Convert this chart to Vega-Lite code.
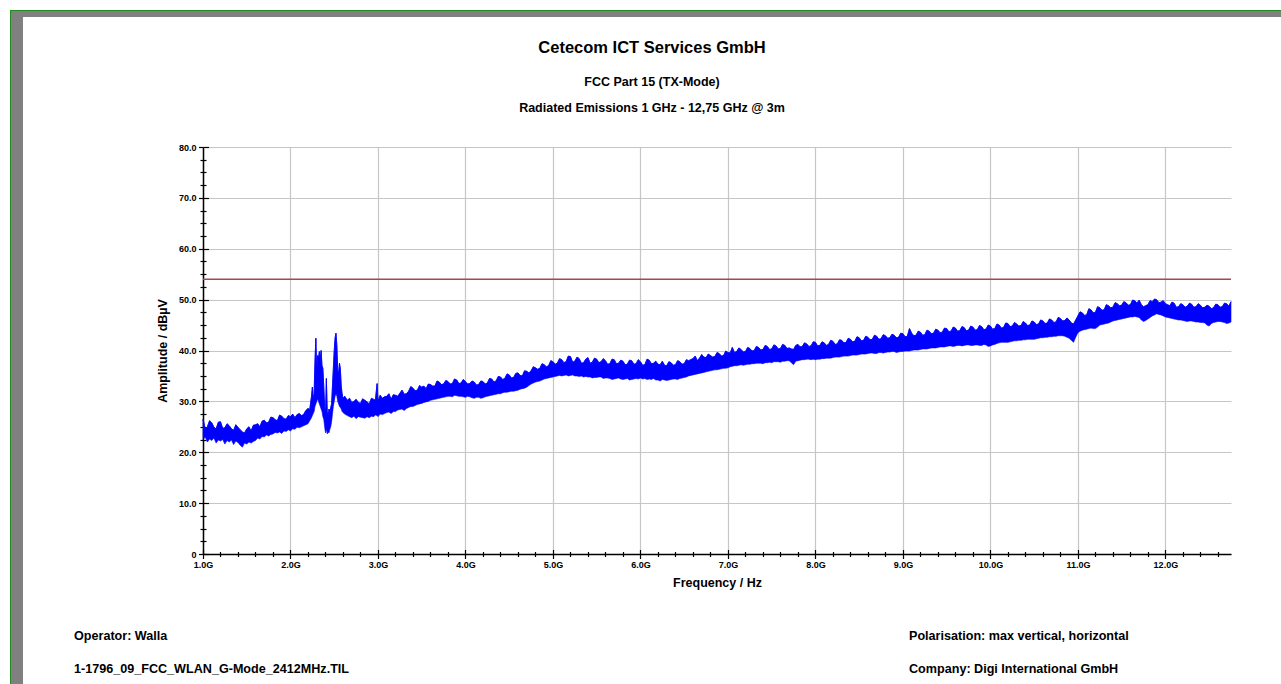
{
"$schema": "https://vega.github.io/schema/vega-lite/v6.json",
"width": 1028, "height": 407,
"autosize": {"type": "none"},
"padding": {"left": 203, "top": 147, "right": 50, "bottom": 130},
"background": "white",
"config": {"view": {"stroke": null}, "font": "Liberation Sans"},
"title": {"text": "Cetecom ICT Services GmbH", "subtitle": ["FCC Part 15 (TX-Mode)", "Radiated Emissions 1 GHz - 12,75 GHz @ 3m"], "anchor": "middle", "frame": "group", "dx": -65, "offset": -105, "font": "Liberation Sans", "fontSize": 16.5, "fontWeight": "bold", "color": "black", "subtitleFont": "Liberation Sans", "subtitleFontSize": 12.5, "subtitleFontWeight": "bold", "subtitleColor": "black", "subtitleLineHeight": 26.5, "subtitlePadding": 19},
"datasets": {"trace": [
{"f":1.00,"lo":22.5,"hi":26.5},{"f":1.025,"lo":23.0,"hi":24.6},{"f":1.05,"lo":22.0,"hi":25.0},{"f":1.075,"lo":22.6,"hi":26.2},{"f":1.10,"lo":22.3,"hi":25.8},{"f":1.125,"lo":22.8,"hi":24.9},{"f":1.15,"lo":21.8,"hi":24.6},{"f":1.175,"lo":22.4,"hi":25.9},{"f":1.20,"lo":22.2,"hi":26.0},{"f":1.225,"lo":22.5,"hi":24.7},{"f":1.25,"lo":21.6,"hi":24.8},{"f":1.275,"lo":22.3,"hi":25.6},{"f":1.30,"lo":22.0,"hi":25.2},{"f":1.325,"lo":22.4,"hi":24.6},{"f":1.35,"lo":21.5,"hi":24.3},{"f":1.375,"lo":22.2,"hi":25.4},{"f":1.40,"lo":21.9,"hi":24.9},{"f":1.425,"lo":21.4,"hi":24.4},{"f":1.45,"lo":21.0,"hi":24.0},{"f":1.475,"lo":21.8,"hi":23.8},{"f":1.50,"lo":21.6,"hi":24.6},{"f":1.525,"lo":22.0,"hi":25.0},{"f":1.55,"lo":21.8,"hi":24.2},{"f":1.575,"lo":22.1,"hi":25.3},{"f":1.60,"lo":22.3,"hi":25.4},{"f":1.625,"lo":22.8,"hi":25.6},{"f":1.65,"lo":22.6,"hi":25.0},{"f":1.675,"lo":23.1,"hi":26.1},{"f":1.70,"lo":23.0,"hi":26.3},{"f":1.725,"lo":23.4,"hi":25.8},{"f":1.75,"lo":23.2,"hi":25.9},{"f":1.775,"lo":23.5,"hi":26.9},{"f":1.80,"lo":23.6,"hi":26.8},{"f":1.825,"lo":23.9,"hi":26.4},{"f":1.85,"lo":23.8,"hi":26.2},{"f":1.875,"lo":24.0,"hi":27.3},{"f":1.90,"lo":23.7,"hi":27.1},{"f":1.925,"lo":24.2,"hi":26.6},{"f":1.95,"lo":24.1,"hi":26.5},{"f":1.975,"lo":24.4,"hi":27.2},{"f":2.00,"lo":24.2,"hi":27.0},{"f":2.025,"lo":24.6,"hi":27.5},{"f":2.05,"lo":24.5,"hi":26.8},{"f":2.075,"lo":24.9,"hi":27.4},{"f":2.10,"lo":24.8,"hi":27.6},{"f":2.125,"lo":25.0,"hi":27.2},{"f":2.15,"lo":25.2,"hi":27.4},{"f":2.175,"lo":25.4,"hi":28.2},{"f":2.20,"lo":25.6,"hi":28.6},
{"f":2.22,"lo":26.2,"hi":28.4},{"f":2.24,"lo":26.8,"hi":31.0},{"f":2.25,"lo":27.2,"hi":32.8},{"f":2.26,"lo":27.6,"hi":30.5},{"f":2.27,"lo":28.0,"hi":31.5},{"f":2.28,"lo":29.0,"hi":38.0},{"f":2.29,"lo":29.5,"hi":42.4},{"f":2.30,"lo":30.0,"hi":36.0},{"f":2.31,"lo":30.5,"hi":39.0},{"f":2.32,"lo":30.0,"hi":38.5},{"f":2.33,"lo":29.5,"hi":39.8},{"f":2.34,"lo":29.0,"hi":38.0},{"f":2.35,"lo":28.5,"hi":40.0},{"f":2.36,"lo":28.0,"hi":37.0},{"f":2.37,"lo":27.0,"hi":36.5},{"f":2.38,"lo":26.5,"hi":33.0},{"f":2.39,"lo":25.0,"hi":29.0},{"f":2.40,"lo":23.8,"hi":27.5},{"f":2.41,"lo":24.5,"hi":34.5},{"f":2.42,"lo":23.6,"hi":28.0},{"f":2.43,"lo":24.0,"hi":27.2},{"f":2.44,"lo":23.8,"hi":28.5},{"f":2.45,"lo":24.5,"hi":27.8},{"f":2.46,"lo":25.0,"hi":28.8},{"f":2.47,"lo":26.0,"hi":29.5},{"f":2.48,"lo":27.5,"hi":33.0},{"f":2.49,"lo":29.0,"hi":36.5},{"f":2.50,"lo":30.0,"hi":40.0},{"f":2.51,"lo":31.0,"hi":42.5},{"f":2.52,"lo":31.5,"hi":43.4},{"f":2.53,"lo":31.0,"hi":41.0},{"f":2.54,"lo":30.0,"hi":36.0},{"f":2.55,"lo":29.5,"hi":35.5},{"f":2.56,"lo":29.0,"hi":37.5},{"f":2.57,"lo":28.8,"hi":36.4},{"f":2.58,"lo":28.5,"hi":33.0},{"f":2.59,"lo":28.0,"hi":31.5},{"f":2.60,"lo":27.8,"hi":30.6},{"f":2.62,"lo":27.5,"hi":31.0},{"f":2.65,"lo":27.2,"hi":30.2},
{"f":2.675,"lo":27.0,"hi":30.6},{"f":2.70,"lo":26.8,"hi":29.8},{"f":2.725,"lo":27.1,"hi":30.0},{"f":2.75,"lo":26.6,"hi":30.4},{"f":2.775,"lo":27.0,"hi":29.8},{"f":2.80,"lo":26.9,"hi":29.6},{"f":2.825,"lo":26.8,"hi":30.5},{"f":2.85,"lo":26.7,"hi":30.2},{"f":2.875,"lo":27.0,"hi":29.9},{"f":2.90,"lo":26.8,"hi":29.5},{"f":2.925,"lo":27.1,"hi":30.6},{"f":2.95,"lo":27.0,"hi":30.4},{"f":2.97,"lo":27.3,"hi":30.2},{"f":2.99,"lo":27.2,"hi":33.5},{"f":3.00,"lo":27.0,"hi":30.0},
{"f":3.025,"lo":27.5,"hi":31.2},{"f":3.05,"lo":27.4,"hi":30.6},{"f":3.075,"lo":27.6,"hi":30.9},{"f":3.10,"lo":27.8,"hi":31.0},{"f":3.125,"lo":27.9,"hi":31.5},{"f":3.15,"lo":27.6,"hi":30.4},{"f":3.175,"lo":28.0,"hi":31.3},{"f":3.20,"lo":28.0,"hi":31.2},{"f":3.225,"lo":28.3,"hi":31.0},{"f":3.25,"lo":28.4,"hi":31.6},{"f":3.275,"lo":28.5,"hi":32.2},{"f":3.30,"lo":28.2,"hi":31.4},{"f":3.325,"lo":28.6,"hi":31.5},{"f":3.35,"lo":28.8,"hi":32.0},{"f":3.375,"lo":29.0,"hi":32.9},{"f":3.40,"lo":29.0,"hi":32.6},{"f":3.425,"lo":29.2,"hi":32.1},{"f":3.45,"lo":29.4,"hi":32.2},{"f":3.475,"lo":29.5,"hi":33.1},{"f":3.50,"lo":29.6,"hi":32.8},{"f":3.525,"lo":29.8,"hi":33.0},{"f":3.55,"lo":29.9,"hi":32.5},{"f":3.575,"lo":30.0,"hi":33.4},{"f":3.60,"lo":30.2,"hi":33.3},{"f":3.625,"lo":30.3,"hi":33.0},{"f":3.65,"lo":30.4,"hi":33.0},{"f":3.675,"lo":30.5,"hi":34.0},{"f":3.70,"lo":30.6,"hi":33.8},{"f":3.725,"lo":30.7,"hi":33.3},{"f":3.75,"lo":30.8,"hi":33.4},{"f":3.775,"lo":30.9,"hi":34.1},{"f":3.80,"lo":31.0,"hi":33.9},{"f":3.825,"lo":31.0,"hi":33.4},{"f":3.85,"lo":30.9,"hi":33.5},{"f":3.875,"lo":31.2,"hi":34.4},{"f":3.90,"lo":31.1,"hi":34.2},{"f":3.925,"lo":31.0,"hi":33.5},{"f":3.95,"lo":31.0,"hi":33.6},{"f":3.975,"lo":30.9,"hi":34.3},
{"f":4.00,"lo":30.8,"hi":33.9},{"f":4.025,"lo":31.0,"hi":33.4},{"f":4.05,"lo":30.9,"hi":33.5},{"f":4.075,"lo":30.7,"hi":34.0},{"f":4.10,"lo":30.6,"hi":33.8},{"f":4.125,"lo":30.8,"hi":33.2},{"f":4.15,"lo":30.8,"hi":33.3},{"f":4.175,"lo":30.6,"hi":34.0},{"f":4.20,"lo":30.7,"hi":33.9},{"f":4.225,"lo":30.9,"hi":33.4},{"f":4.25,"lo":31.0,"hi":33.6},{"f":4.275,"lo":31.1,"hi":34.5},{"f":4.30,"lo":31.2,"hi":34.4},{"f":4.325,"lo":31.3,"hi":33.8},{"f":4.35,"lo":31.4,"hi":34.0},{"f":4.375,"lo":31.5,"hi":34.9},{"f":4.40,"lo":31.5,"hi":34.8},{"f":4.425,"lo":31.7,"hi":34.3},{"f":4.45,"lo":31.8,"hi":34.5},{"f":4.475,"lo":31.8,"hi":35.4},{"f":4.50,"lo":31.9,"hi":35.2},{"f":4.525,"lo":32.0,"hi":34.6},{"f":4.55,"lo":32.0,"hi":34.7},{"f":4.575,"lo":32.1,"hi":35.5},{"f":4.60,"lo":32.2,"hi":35.6},{"f":4.625,"lo":32.4,"hi":35.1},{"f":4.65,"lo":32.5,"hi":35.0},{"f":4.675,"lo":32.6,"hi":36.0},{"f":4.70,"lo":32.8,"hi":35.9},{"f":4.725,"lo":33.1,"hi":35.6},{"f":4.75,"lo":33.4,"hi":36.0},{"f":4.775,"lo":33.6,"hi":36.8},{"f":4.80,"lo":33.8,"hi":36.6},{"f":4.825,"lo":33.9,"hi":36.3},{"f":4.85,"lo":34.0,"hi":36.5},{"f":4.875,"lo":34.2,"hi":37.4},{"f":4.90,"lo":34.4,"hi":37.2},{"f":4.925,"lo":34.5,"hi":36.8},{"f":4.95,"lo":34.6,"hi":37.0},{"f":4.975,"lo":34.7,"hi":38.0},
{"f":5.00,"lo":34.8,"hi":37.8},{"f":5.025,"lo":34.9,"hi":37.3},{"f":5.05,"lo":35.0,"hi":37.5},{"f":5.075,"lo":35.1,"hi":38.4},{"f":5.10,"lo":35.0,"hi":38.2},{"f":5.125,"lo":35.1,"hi":37.6},{"f":5.15,"lo":35.2,"hi":37.8},{"f":5.175,"lo":35.0,"hi":38.9},{"f":5.20,"lo":35.1,"hi":38.8},{"f":5.225,"lo":35.2,"hi":37.7},{"f":5.25,"lo":35.0,"hi":37.9},{"f":5.275,"lo":35.0,"hi":38.7},{"f":5.30,"lo":34.9,"hi":38.4},{"f":5.325,"lo":35.0,"hi":37.5},{"f":5.35,"lo":34.8,"hi":37.6},{"f":5.375,"lo":34.9,"hi":38.3},{"f":5.40,"lo":34.8,"hi":38.6},{"f":5.425,"lo":34.8,"hi":37.5},{"f":5.45,"lo":34.6,"hi":37.7},{"f":5.475,"lo":34.7,"hi":38.5},{"f":5.50,"lo":34.7,"hi":38.3},{"f":5.525,"lo":34.8,"hi":37.6},{"f":5.55,"lo":34.8,"hi":37.8},{"f":5.575,"lo":34.5,"hi":38.4},{"f":5.60,"lo":34.6,"hi":38.0},{"f":5.625,"lo":34.6,"hi":37.3},{"f":5.65,"lo":34.5,"hi":37.4},{"f":5.675,"lo":34.3,"hi":38.3},{"f":5.70,"lo":34.4,"hi":38.2},{"f":5.725,"lo":34.5,"hi":37.4},{"f":5.75,"lo":34.6,"hi":37.5},{"f":5.775,"lo":34.4,"hi":38.1},{"f":5.80,"lo":34.3,"hi":37.9},{"f":5.825,"lo":34.4,"hi":37.2},{"f":5.85,"lo":34.5,"hi":37.3},{"f":5.875,"lo":34.2,"hi":38.1},{"f":5.90,"lo":34.3,"hi":38.0},{"f":5.925,"lo":34.4,"hi":37.3},{"f":5.95,"lo":34.5,"hi":37.4},{"f":5.975,"lo":34.4,"hi":38.2},
{"f":6.00,"lo":34.6,"hi":37.8},{"f":6.025,"lo":34.4,"hi":37.1},{"f":6.05,"lo":34.5,"hi":37.2},{"f":6.075,"lo":34.3,"hi":38.3},{"f":6.10,"lo":34.4,"hi":38.1},{"f":6.125,"lo":34.3,"hi":37.4},{"f":6.15,"lo":34.5,"hi":37.5},{"f":6.175,"lo":34.2,"hi":37.9},{"f":6.20,"lo":34.2,"hi":37.3},{"f":6.225,"lo":34.0,"hi":37.2},{"f":6.25,"lo":34.3,"hi":37.9},{"f":6.275,"lo":34.2,"hi":37.1},{"f":6.30,"lo":34.1,"hi":37.0},{"f":6.325,"lo":34.2,"hi":37.8},{"f":6.35,"lo":34.3,"hi":37.6},{"f":6.375,"lo":34.4,"hi":37.1},{"f":6.40,"lo":34.4,"hi":37.2},{"f":6.425,"lo":34.3,"hi":38.0},{"f":6.45,"lo":34.5,"hi":37.8},{"f":6.475,"lo":34.6,"hi":37.3},{"f":6.50,"lo":34.7,"hi":37.4},{"f":6.525,"lo":34.8,"hi":38.2},{"f":6.55,"lo":35.0,"hi":38.0},{"f":6.575,"lo":35.1,"hi":38.2},{"f":6.60,"lo":35.2,"hi":38.4},{"f":6.625,"lo":35.3,"hi":38.9},{"f":6.65,"lo":35.4,"hi":38.0},{"f":6.675,"lo":35.5,"hi":38.5},{"f":6.70,"lo":35.6,"hi":39.2},{"f":6.725,"lo":35.7,"hi":38.7},{"f":6.75,"lo":35.8,"hi":38.6},{"f":6.775,"lo":35.9,"hi":39.3},{"f":6.80,"lo":36.0,"hi":39.0},{"f":6.825,"lo":36.1,"hi":38.7},{"f":6.85,"lo":36.2,"hi":38.8},{"f":6.875,"lo":36.2,"hi":39.6},{"f":6.90,"lo":36.3,"hi":39.4},{"f":6.925,"lo":36.4,"hi":38.9},{"f":6.95,"lo":36.5,"hi":39.0},{"f":6.975,"lo":36.5,"hi":39.9},
{"f":7.00,"lo":36.6,"hi":39.6},{"f":7.025,"lo":36.8,"hi":39.5},{"f":7.05,"lo":36.9,"hi":40.6},{"f":7.075,"lo":37.0,"hi":39.6},{"f":7.10,"lo":37.0,"hi":39.8},{"f":7.125,"lo":37.1,"hi":40.5},{"f":7.15,"lo":37.2,"hi":40.2},{"f":7.175,"lo":37.1,"hi":39.7},{"f":7.20,"lo":37.2,"hi":39.8},{"f":7.225,"lo":37.3,"hi":40.6},{"f":7.25,"lo":37.3,"hi":40.4},{"f":7.275,"lo":37.4,"hi":39.9},{"f":7.30,"lo":37.4,"hi":40.0},{"f":7.325,"lo":37.5,"hi":40.8},{"f":7.35,"lo":37.5,"hi":40.6},{"f":7.375,"lo":37.5,"hi":40.1},{"f":7.40,"lo":37.4,"hi":40.2},{"f":7.425,"lo":37.6,"hi":41.0},{"f":7.45,"lo":37.6,"hi":40.8},{"f":7.475,"lo":37.7,"hi":40.2},{"f":7.50,"lo":37.6,"hi":40.3},{"f":7.525,"lo":37.8,"hi":41.1},{"f":7.55,"lo":37.8,"hi":40.9},{"f":7.575,"lo":37.8,"hi":40.3},{"f":7.60,"lo":37.7,"hi":40.4},{"f":7.625,"lo":37.9,"hi":41.2},{"f":7.65,"lo":37.9,"hi":41.0},{"f":7.675,"lo":38.0,"hi":40.4},{"f":7.70,"lo":38.0,"hi":40.5},{"f":7.725,"lo":37.6,"hi":40.3},{"f":7.75,"lo":37.2,"hi":40.2},{"f":7.775,"lo":37.9,"hi":41.0},{"f":7.80,"lo":38.0,"hi":41.2},{"f":7.825,"lo":38.1,"hi":40.7},{"f":7.85,"lo":38.2,"hi":40.8},{"f":7.875,"lo":38.2,"hi":41.5},{"f":7.90,"lo":38.3,"hi":41.3},{"f":7.925,"lo":38.3,"hi":40.8},{"f":7.95,"lo":38.2,"hi":40.9},{"f":7.975,"lo":38.3,"hi":41.7},
{"f":8.00,"lo":38.2,"hi":41.6},{"f":8.025,"lo":38.3,"hi":40.9},{"f":8.05,"lo":38.3,"hi":41.0},{"f":8.075,"lo":38.4,"hi":41.7},{"f":8.10,"lo":38.4,"hi":41.5},{"f":8.125,"lo":38.5,"hi":41.0},{"f":8.15,"lo":38.5,"hi":41.2},{"f":8.175,"lo":38.5,"hi":42.0},{"f":8.20,"lo":38.6,"hi":41.8},{"f":8.225,"lo":38.7,"hi":41.2},{"f":8.25,"lo":38.7,"hi":41.3},{"f":8.275,"lo":38.7,"hi":42.1},{"f":8.30,"lo":38.8,"hi":42.0},{"f":8.325,"lo":38.9,"hi":41.5},{"f":8.35,"lo":38.9,"hi":41.6},{"f":8.375,"lo":38.9,"hi":42.4},{"f":8.40,"lo":39.0,"hi":42.2},{"f":8.425,"lo":39.1,"hi":41.7},{"f":8.45,"lo":39.1,"hi":41.8},{"f":8.475,"lo":39.1,"hi":42.7},{"f":8.50,"lo":39.2,"hi":42.5},{"f":8.525,"lo":39.3,"hi":41.9},{"f":8.55,"lo":39.3,"hi":42.0},{"f":8.575,"lo":39.3,"hi":42.8},{"f":8.60,"lo":39.4,"hi":42.6},{"f":8.625,"lo":39.5,"hi":42.1},{"f":8.65,"lo":39.5,"hi":42.2},{"f":8.675,"lo":39.4,"hi":43.0},{"f":8.70,"lo":39.4,"hi":42.8},{"f":8.725,"lo":39.6,"hi":42.2},{"f":8.75,"lo":39.6,"hi":42.3},{"f":8.775,"lo":39.5,"hi":43.1},{"f":8.80,"lo":39.6,"hi":42.9},{"f":8.825,"lo":39.7,"hi":42.4},{"f":8.85,"lo":39.7,"hi":42.5},{"f":8.875,"lo":39.8,"hi":43.2},{"f":8.90,"lo":39.8,"hi":43.0},{"f":8.925,"lo":39.6,"hi":42.5},{"f":8.95,"lo":39.7,"hi":42.6},{"f":8.975,"lo":39.8,"hi":43.4},
{"f":9.00,"lo":39.8,"hi":43.3},{"f":9.025,"lo":39.9,"hi":42.7},{"f":9.05,"lo":39.9,"hi":42.8},{"f":9.075,"lo":39.9,"hi":44.3},{"f":9.10,"lo":40.0,"hi":43.4},{"f":9.125,"lo":40.1,"hi":42.9},{"f":9.15,"lo":40.1,"hi":43.0},{"f":9.175,"lo":40.1,"hi":43.8},{"f":9.20,"lo":40.2,"hi":43.6},{"f":9.225,"lo":40.3,"hi":43.0},{"f":9.25,"lo":40.3,"hi":43.1},{"f":9.275,"lo":40.3,"hi":44.0},{"f":9.30,"lo":40.4,"hi":43.8},{"f":9.325,"lo":40.5,"hi":43.3},{"f":9.35,"lo":40.5,"hi":43.4},{"f":9.375,"lo":40.5,"hi":44.2},{"f":9.40,"lo":40.6,"hi":44.0},{"f":9.425,"lo":40.7,"hi":43.5},{"f":9.45,"lo":40.7,"hi":43.6},{"f":9.475,"lo":40.7,"hi":44.4},{"f":9.50,"lo":40.8,"hi":44.3},{"f":9.525,"lo":40.9,"hi":43.7},{"f":9.55,"lo":40.9,"hi":43.8},{"f":9.575,"lo":40.8,"hi":44.6},{"f":9.60,"lo":40.9,"hi":44.4},{"f":9.625,"lo":41.0,"hi":43.8},{"f":9.65,"lo":41.0,"hi":43.9},{"f":9.675,"lo":40.9,"hi":44.7},{"f":9.70,"lo":41.0,"hi":44.5},{"f":9.725,"lo":41.1,"hi":43.9},{"f":9.75,"lo":41.1,"hi":44.0},{"f":9.775,"lo":41.0,"hi":44.8},{"f":9.80,"lo":41.0,"hi":44.6},{"f":9.825,"lo":41.1,"hi":44.0},{"f":9.85,"lo":41.1,"hi":44.1},{"f":9.875,"lo":41.0,"hi":44.9},{"f":9.90,"lo":41.0,"hi":44.7},{"f":9.925,"lo":41.2,"hi":44.1},{"f":9.95,"lo":41.1,"hi":44.2},{"f":9.975,"lo":40.8,"hi":45.0},
{"f":10.00,"lo":40.9,"hi":44.8},{"f":10.025,"lo":41.1,"hi":44.2},{"f":10.05,"lo":41.2,"hi":44.3},{"f":10.075,"lo":41.4,"hi":45.2},{"f":10.10,"lo":41.5,"hi":45.0},{"f":10.125,"lo":41.6,"hi":44.4},{"f":10.15,"lo":41.6,"hi":44.5},{"f":10.175,"lo":41.6,"hi":45.4},{"f":10.20,"lo":41.6,"hi":45.3},{"f":10.225,"lo":41.7,"hi":44.7},{"f":10.25,"lo":41.8,"hi":44.8},{"f":10.275,"lo":41.9,"hi":45.5},{"f":10.30,"lo":41.9,"hi":45.2},{"f":10.325,"lo":42.0,"hi":44.8},{"f":10.35,"lo":42.0,"hi":44.9},{"f":10.375,"lo":42.1,"hi":45.7},{"f":10.40,"lo":42.1,"hi":45.4},{"f":10.425,"lo":42.2,"hi":44.9},{"f":10.45,"lo":42.2,"hi":45.0},{"f":10.475,"lo":42.2,"hi":45.8},{"f":10.50,"lo":42.2,"hi":45.6},{"f":10.525,"lo":42.3,"hi":45.1},{"f":10.55,"lo":42.4,"hi":45.2},{"f":10.575,"lo":42.5,"hi":46.0},{"f":10.60,"lo":42.5,"hi":45.8},{"f":10.625,"lo":42.6,"hi":45.3},{"f":10.65,"lo":42.6,"hi":45.4},{"f":10.675,"lo":42.7,"hi":46.2},{"f":10.70,"lo":42.7,"hi":46.0},{"f":10.725,"lo":42.8,"hi":45.5},{"f":10.75,"lo":42.8,"hi":45.6},{"f":10.775,"lo":42.9,"hi":46.5},{"f":10.80,"lo":42.9,"hi":46.3},{"f":10.825,"lo":42.9,"hi":45.8},{"f":10.85,"lo":42.8,"hi":45.9},{"f":10.875,"lo":42.6,"hi":46.4},{"f":10.90,"lo":42.4,"hi":46.0},{"f":10.925,"lo":42.0,"hi":45.4},{"f":10.95,"lo":41.6,"hi":45.2},{"f":10.975,"lo":42.6,"hi":46.0},
{"f":11.00,"lo":43.5,"hi":46.8},{"f":11.025,"lo":43.8,"hi":47.6},{"f":11.05,"lo":44.0,"hi":47.4},{"f":11.075,"lo":44.1,"hi":46.9},{"f":11.10,"lo":44.2,"hi":47.0},{"f":11.125,"lo":44.3,"hi":48.2},{"f":11.15,"lo":44.4,"hi":48.0},{"f":11.175,"lo":44.3,"hi":47.4},{"f":11.20,"lo":44.3,"hi":47.5},{"f":11.225,"lo":44.6,"hi":48.6},{"f":11.25,"lo":45.0,"hi":48.4},{"f":11.275,"lo":45.1,"hi":47.9},{"f":11.30,"lo":45.2,"hi":48.0},{"f":11.325,"lo":45.3,"hi":49.0},{"f":11.35,"lo":45.4,"hi":48.8},{"f":11.375,"lo":45.6,"hi":48.4},{"f":11.40,"lo":45.8,"hi":48.5},{"f":11.425,"lo":45.9,"hi":49.4},{"f":11.45,"lo":46.0,"hi":49.2},{"f":11.475,"lo":46.1,"hi":48.8},{"f":11.50,"lo":46.2,"hi":48.9},{"f":11.525,"lo":46.3,"hi":49.6},{"f":11.55,"lo":46.4,"hi":49.4},{"f":11.575,"lo":46.5,"hi":48.9},{"f":11.60,"lo":46.6,"hi":49.0},{"f":11.625,"lo":46.6,"hi":49.9},{"f":11.65,"lo":46.7,"hi":49.8},{"f":11.675,"lo":46.6,"hi":49.3},{"f":11.70,"lo":46.5,"hi":49.9},{"f":11.725,"lo":46.0,"hi":49.0},{"f":11.75,"lo":45.7,"hi":48.6},{"f":11.775,"lo":45.9,"hi":48.8},{"f":11.80,"lo":46.2,"hi":49.0},{"f":11.825,"lo":46.5,"hi":49.8},{"f":11.85,"lo":46.8,"hi":49.6},{"f":11.875,"lo":47.0,"hi":50.1},{"f":11.90,"lo":47.2,"hi":50.0},{"f":11.925,"lo":47.1,"hi":49.4},{"f":11.95,"lo":47.0,"hi":49.5},{"f":11.975,"lo":46.8,"hi":49.8},
{"f":12.00,"lo":46.6,"hi":49.2},{"f":12.025,"lo":46.5,"hi":49.0},{"f":12.05,"lo":46.4,"hi":48.8},{"f":12.075,"lo":46.3,"hi":49.5},{"f":12.10,"lo":46.2,"hi":49.3},{"f":12.125,"lo":46.1,"hi":48.5},{"f":12.15,"lo":46.0,"hi":48.6},{"f":12.175,"lo":46.0,"hi":49.2},{"f":12.20,"lo":45.9,"hi":49.0},{"f":12.225,"lo":45.8,"hi":48.5},{"f":12.25,"lo":45.7,"hi":48.7},{"f":12.275,"lo":45.8,"hi":49.3},{"f":12.30,"lo":45.8,"hi":49.1},{"f":12.325,"lo":45.7,"hi":48.5},{"f":12.35,"lo":45.6,"hi":48.6},{"f":12.375,"lo":45.6,"hi":49.2},{"f":12.40,"lo":45.5,"hi":48.9},{"f":12.425,"lo":45.5,"hi":48.4},{"f":12.45,"lo":45.4,"hi":48.5},{"f":12.475,"lo":45.0,"hi":48.9},{"f":12.50,"lo":44.8,"hi":48.7},{"f":12.525,"lo":45.3,"hi":48.2},{"f":12.55,"lo":45.5,"hi":48.4},{"f":12.575,"lo":45.6,"hi":49.1},{"f":12.60,"lo":45.7,"hi":49.0},{"f":12.625,"lo":45.7,"hi":48.5},{"f":12.65,"lo":45.6,"hi":48.6},{"f":12.675,"lo":45.5,"hi":49.3},{"f":12.70,"lo":45.3,"hi":49.2},{"f":12.725,"lo":45.4,"hi":48.7},{"f":12.75,"lo":45.6,"hi":49.6}
]},
"layer": [
{"data": {"values": [{}]}, "mark": {"type": "rect", "color": "#808080"},
 "encoding": {"x": {"datum": -1.1945, "type": "quantitative", "scale": {"domain": [1, 12.75], "nice": false, "zero": false}, "axis": null}, "x2": {"datum": -1.0574}, "y": {"datum": 106.73, "type": "quantitative", "scale": {"domain": [0, 80], "nice": false, "zero": false}, "axis": null}, "y2": {"datum": -30}}},
{"data": {"values": [{}]}, "mark": {"type": "rect", "color": "#808080"},
 "encoding": {"x": {"datum": -1.1945, "type": "quantitative", "scale": {"domain": [1, 12.75], "nice": false, "zero": false}, "axis": null}, "x2": {"datum": 13.5}, "y": {"datum": 106.73, "type": "quantitative", "scale": {"domain": [0, 80], "nice": false, "zero": false}, "axis": null}, "y2": {"datum": 105.55}}},
{"data": {"values": [{}]}, "mark": {"type": "rect", "color": "#228b22"},
 "encoding": {"x": {"datum": -1.206, "type": "quantitative", "scale": {"domain": [1, 12.75], "nice": false, "zero": false}, "axis": null}, "x2": {"datum": -1.1945}, "y": {"datum": 106.93, "type": "quantitative", "scale": {"domain": [0, 80], "nice": false, "zero": false}, "axis": null}, "y2": {"datum": -30}}},
{"data": {"values": [{}]}, "mark": {"type": "rect", "color": "#228b22"},
 "encoding": {"x": {"datum": -1.206, "type": "quantitative", "scale": {"domain": [1, 12.75], "nice": false, "zero": false}, "axis": null}, "x2": {"datum": 13.5}, "y": {"datum": 106.93, "type": "quantitative", "scale": {"domain": [0, 80], "nice": false, "zero": false}, "axis": null}, "y2": {"datum": 106.73}}},
{"data": {"name": "trace"},
 "mark": {"type": "area", "color": "#0000ff", "stroke": "#0000ff", "strokeWidth": 0.6, "opacity": 1},
 "encoding": {
  "x": {"field": "f", "type": "quantitative", "scale": {"domain": [1, 12.75], "nice": false, "zero": false},
   "axis": {"orient": "bottom", "values": [1,1.2,1.4,1.6,1.8,2,2.2,2.4,2.6,2.8,3,3.2,3.4,3.6,3.8,4,4.2,4.4,4.6,4.8,5,5.2,5.4,5.6,5.8,6,6.2,6.4,6.6,6.8,7,7.2,7.4,7.6,7.8,8,8.2,8.4,8.6,8.8,9,9.2,9.4,9.6,9.8,10,10.2,10.4,10.6,10.8,11,11.2,11.4,11.6,11.8,12,12.2,12.4,12.6],
    "title": "Frequency / Hz", "titleFont": "Liberation Sans", "titleFontSize": 12.5, "titleFontWeight": "bold", "titleColor": "black", "titlePadding": 7,
    "labelExpr": "abs(datum.value - round(datum.value)) < 0.01 ? format(datum.value, '.1f') + 'G' : ''",
    "labelFont": "Liberation Sans", "labelFontSize": 9, "labelFontWeight": "bold", "labelColor": "black", "labelPadding": 2, "labelFlush": false, "labelOverlap": false, "labelBound": false,
    "tickSize": {"condition": {"test": "abs(datum.value - round(datum.value)) < 0.01", "value": 4.5}, "value": 2.5},
    "tickColor": "black", "tickWidth": 1.2, "domainColor": "black", "domainWidth": 1.5,
    "grid": true, "gridColor": "#c6c6c6", "gridWidth": 1.2,
    "gridOpacity": {"condition": {"test": "abs(datum.value - round(datum.value)) < 0.01", "value": 1}, "value": 0}}},
  "y": {"field": "hi", "type": "quantitative", "scale": {"domain": [0, 80], "nice": false, "zero": false},
   "axis": {"orient": "left", "values": [0,2.5,5,7.5,10,12.5,15,17.5,20,22.5,25,27.5,30,32.5,35,37.5,40,42.5,45,47.5,50,52.5,55,57.5,60,62.5,65,67.5,70,72.5,75,77.5,80],
    "title": "Amplitude / dBµV", "titleFont": "Liberation Sans", "titleFontSize": 12.5, "titleFontWeight": "bold", "titleColor": "black", "titlePadding": 9,
    "labelExpr": "datum.value == 0 ? '0' : (abs(datum.value / 10 - round(datum.value / 10)) < 0.01 ? format(datum.value, '.1f') : '')",
    "labelFont": "Liberation Sans", "labelFontSize": 9, "labelFontWeight": "bold", "labelColor": "black", "labelPadding": 2.5, "labelOverlap": false, "labelBound": false, "labelFlush": false,
    "tickSize": {"condition": {"test": "abs(datum.value / 10 - round(datum.value / 10)) < 0.01", "value": 4.5}, "value": 3},
    "tickColor": "black", "tickWidth": 1.2, "domainColor": "black", "domainWidth": 1.5,
    "grid": true, "gridColor": "#c6c6c6", "gridWidth": 1.2,
    "gridOpacity": {"condition": {"test": "abs(datum.value / 10 - round(datum.value / 10)) < 0.01", "value": 1}, "value": 0}}},
  "y2": {"field": "lo"}}},
{"data": {"name": "trace"},
 "mark": {"type": "line", "color": "#0000ff", "strokeWidth": 0.8},
 "encoding": {
  "x": {"field": "f", "type": "quantitative", "scale": {"domain": [1, 12.75], "nice": false, "zero": false},
   "axis": {"orient": "bottom", "values": [1,1.2,1.4,1.6,1.8,2,2.2,2.4,2.6,2.8,3,3.2,3.4,3.6,3.8,4,4.2,4.4,4.6,4.8,5,5.2,5.4,5.6,5.8,6,6.2,6.4,6.6,6.8,7,7.2,7.4,7.6,7.8,8,8.2,8.4,8.6,8.8,9,9.2,9.4,9.6,9.8,10,10.2,10.4,10.6,10.8,11,11.2,11.4,11.6,11.8,12,12.2,12.4,12.6],
    "title": null, "labels": false, "domain": false, "grid": false,
    "tickSize": {"condition": {"test": "abs(datum.value - round(datum.value)) < 0.01", "value": -4.5}, "value": -2.5},
    "tickColor": "black", "tickWidth": 1.2}},
  "y": {"field": "hi", "type": "quantitative", "scale": {"domain": [0, 80], "nice": false, "zero": false},
   "axis": {"orient": "left", "values": [0,2.5,5,7.5,10,12.5,15,17.5,20,22.5,25,27.5,30,32.5,35,37.5,40,42.5,45,47.5,50,52.5,55,57.5,60,62.5,65,67.5,70,72.5,75,77.5,80],
    "title": null, "labels": false, "domain": false, "grid": false,
    "tickSize": {"condition": {"test": "abs(datum.value / 10 - round(datum.value / 10)) < 0.01", "value": -5.5}, "value": -3},
    "tickColor": "black", "tickWidth": 1.2}}}},
{"data": {"values": [{}]}, "mark": {"type": "rule", "color": "#a04a4a", "strokeWidth": 1.6},
 "encoding": {"y": {"datum": 54, "type": "quantitative", "scale": {"domain": [0, 80], "nice": false, "zero": false}, "axis": null}}},
{"data": {"values": [{}]}, "mark": {"type": "text", "text": ["Operator: Walla", "1-1796_09_FCC_WLAN_G-Mode_2412MHz.TIL"], "lineHeight": 33, "align": "left", "baseline": "alphabetic", "font": "Liberation Sans", "fontSize": 12.6, "fontWeight": "bold", "color": "black"},
 "encoding": {"x": {"datum": -0.4745, "type": "quantitative", "scale": {"domain": [1, 12.75], "nice": false, "zero": false}, "axis": null}, "y": {"datum": -16.81, "type": "quantitative", "scale": {"domain": [0, 80], "nice": false, "zero": false}, "axis": null}}},
{"data": {"values": [{}]}, "mark": {"type": "text", "text": ["Polarisation: max vertical, horizontal", "Company: Digi International GmbH"], "lineHeight": 33, "align": "left", "baseline": "alphabetic", "font": "Liberation Sans", "fontSize": 12.6, "fontWeight": "bold", "color": "black"},
 "encoding": {"x": {"datum": 9.0696, "type": "quantitative", "scale": {"domain": [1, 12.75], "nice": false, "zero": false}, "axis": null}, "y": {"datum": -16.81, "type": "quantitative", "scale": {"domain": [0, 80], "nice": false, "zero": false}, "axis": null}}}
],
"resolve": {"axis": {"x": "independent", "y": "independent"}}
}
